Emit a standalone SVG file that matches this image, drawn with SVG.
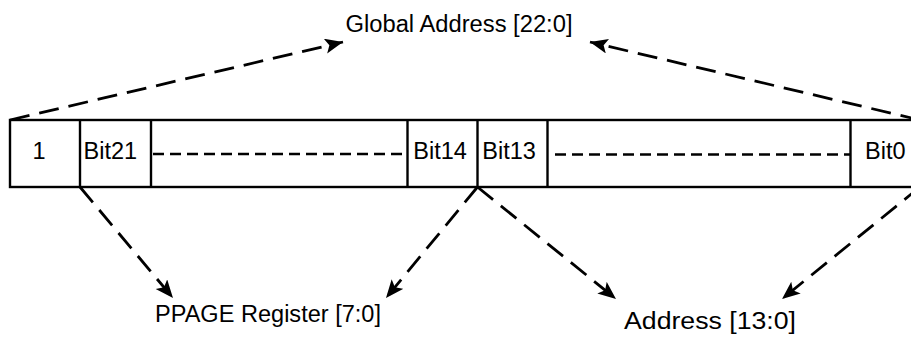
<svg xmlns="http://www.w3.org/2000/svg" width="911" height="337" viewBox="0 0 911 337">
  <style>
    text { font-family: "Liberation Sans", Arial, sans-serif; fill: #000; }
    .bit { font-size: 23.5px; }
    .label { font-size: 23px; }
    .cell { fill: #fff; stroke: #000; stroke-width: 2.4; }
    .div { stroke: #000; stroke-width: 2.4; }
    .fill { stroke: #000; stroke-width: 2.6; stroke-dasharray: 11 6; }
    .map { fill: none; stroke: #000; stroke-width: 2.8; stroke-dasharray: 20 10; marker-end: url(#head); }
  </style>
  <defs>
    <marker id="head" markerUnits="userSpaceOnUse" markerWidth="20" markerHeight="16" refX="18" refY="7.5" orient="auto">
      <path d="M0,0 L18,7.5 L0,15 L4,7.5 z" fill="#000"/>
    </marker>
  </defs>
  <rect width="911" height="337" fill="#fff"/>

  <!-- 23-bit global address register -->
  <g id="register">
    <rect class="cell" x="10" y="120" width="910" height="67"/>
    <line class="div" x1="80" y1="120" x2="80" y2="187"/>
    <line class="div" x1="151" y1="120" x2="151" y2="187"/>
    <line class="div" x1="407.5" y1="120" x2="407.5" y2="187"/>
    <line class="div" x1="477.5" y1="120" x2="477.5" y2="187"/>
    <line class="div" x1="547.5" y1="120" x2="547.5" y2="187"/>
    <line class="div" x1="850.5" y1="120" x2="850.5" y2="187"/>
    <line class="fill" x1="153" y1="154" x2="407" y2="154"/>
    <line class="fill" x1="555" y1="154.5" x2="850" y2="154.5"/>
  </g>
  <g id="bit-one"><text class="bit" x="32.5" y="158.5">1</text></g>
  <g id="bit21"><text class="bit" x="83.5" y="158.5">Bit21</text></g>
  <g id="bit14"><text class="bit" x="413.3" y="158.5">Bit14</text></g>
  <g id="bit13"><text class="bit" x="482.3" y="158.5">Bit13</text></g>
  <g id="bit0"><text class="bit" x="865" y="158.5">Bit0</text></g>

  <!-- destination labels -->
  <g id="global-address"><text class="label" x="345.5" y="32" font-size="24" textLength="227" lengthAdjust="spacingAndGlyphs">Global Address [22:0]</text></g>
  <g id="ppage"><text class="label" x="155" y="322" font-size="22" textLength="226" lengthAdjust="spacingAndGlyphs">PPAGE Register [7:0]</text></g>
  <g id="address"><text class="label" x="624" y="329" font-size="24" textLength="172" lengthAdjust="spacingAndGlyphs">Address [13:0]</text></g>

  <!-- field mapping arrows -->
  <g id="connectors">
    <line class="map" x1="10" y1="120" x2="343" y2="42"/>
    <line class="map" x1="920" y1="120" x2="590" y2="42"/>
    <line class="map" x1="80" y1="187" x2="173" y2="298"/>
    <line class="map" x1="477.5" y1="187" x2="386" y2="298"/>
    <line class="map" x1="477.5" y1="187" x2="616" y2="299"/>
    <line class="map" x1="920" y1="187" x2="782" y2="299"/>
  </g>
</svg>
